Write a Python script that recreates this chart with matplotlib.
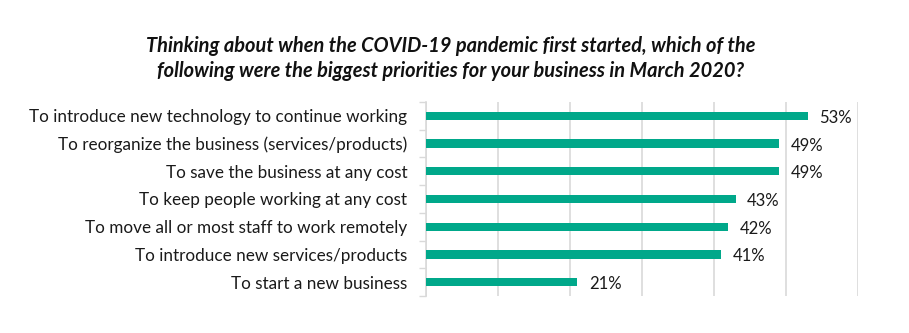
import matplotlib
matplotlib.use('Agg')
import matplotlib.pyplot as plt
import numpy as np

plt.rcParams['font.family'] = ['Lato', 'DejaVu Sans']

# data, top to bottom
labels = ['To introduce new technology to continue working',
          'To reorganize the business (services/products)',
          'To save the business at any cost',
          'To keep people working at any cost',
          'To move all or most staff to work remotely',
          'To introduce new services/products',
          'To start a new business']
values = [53, 49, 49, 43, 42, 41, 21]

title = ('Thinking about when the COVID-19 pandemic first started, which of the\n'
         'following were the biggest priorities for your business in March 2020?')

fig = plt.figure(figsize=(9.09, 3.33), dpi=100)
ax = fig.add_axes([426/909, 1 - 296/333, (858-426)/909, (296-102)/333])

y = np.arange(len(labels))
ax.barh(y, values, height=0.3, color='#00A88A', zorder=3)
for yi, v in zip(y, values):
    ax.text(v + 1.6, yi + 0.07, f'{v}%', va='center', ha='left', fontsize=12, color='#1a1a1a')

ax.set_xlim(0, 60)
ax.set_ylim(len(labels) - 0.5, -0.5)
ax.set_xticks(np.arange(0, 61, 10))
ax.xaxis.grid(True, color='#d9d9d9', linewidth=1.2, zorder=0)
ax.tick_params(axis='x', length=0, labelbottom=False)

ax.set_yticks(y)
ax.set_yticklabels(labels, fontsize=12.3, color='#1a1a1a')
ax.set_yticks(np.arange(-0.5, len(labels), 1), minor=True)
ax.tick_params(axis='y', which='major', length=0, pad=13.5)
ax.tick_params(axis='y', which='minor', length=5, color='#d9d9d9', width=1)

for s in ['top', 'right', 'bottom']:
    ax.spines[s].set_visible(False)
ax.spines['left'].set_color('#d9d9d9')
ax.spines['left'].set_linewidth(1.2)

fig.text(0.496, 1 - 58.5/333, title, ha='center', va='center', fontsize=14.4,
         fontweight='bold', fontstyle='italic', linespacing=1.35, color='#111111')

fig.savefig('out.png', dpi=100)
